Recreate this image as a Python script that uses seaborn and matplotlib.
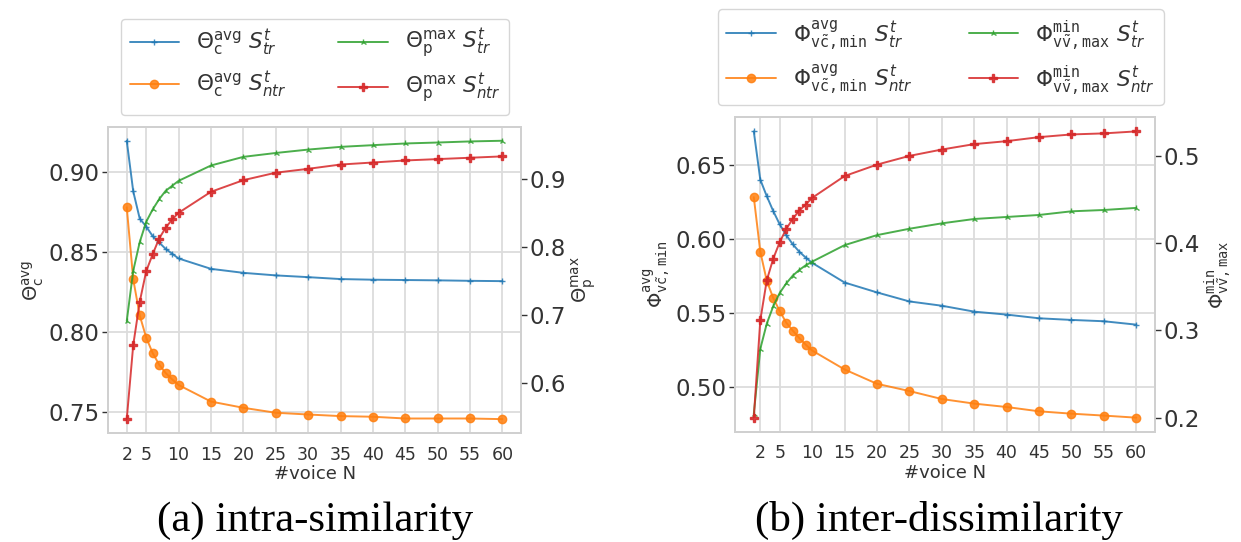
import numpy as np
import pandas as pd
import matplotlib
matplotlib.use("Agg")
import matplotlib.pyplot as plt
import seaborn as sns

# ---------------- data ----------------
n_a = [2, 3, 4, 5, 6, 7, 8, 9, 10, 15, 20, 25, 30, 35, 40, 45, 50, 55, 60]
theta_c_avg_tr = [0.9197, 0.888, 0.871, 0.866, 0.860, 0.856, 0.852, 0.849, 0.846, 0.8395, 0.837,
                  0.8354, 0.8343, 0.8331, 0.8327, 0.8325, 0.8323, 0.832, 0.8318]
theta_c_avg_ntr = [0.878, 0.833, 0.8104, 0.7965, 0.7868, 0.7795, 0.7743, 0.7703, 0.7668, 0.7564,
                   0.7525, 0.7494, 0.7483, 0.7473, 0.7469, 0.7458, 0.7458, 0.7458, 0.7454]
theta_p_max_tr = [0.6917, 0.7657, 0.8078, 0.8377, 0.8559, 0.871, 0.8833, 0.8907, 0.898, 0.9206,
                  0.9333, 0.939, 0.944, 0.948, 0.9505, 0.953, 0.9544, 0.956, 0.957]
theta_p_max_ntr = [0.5475, 0.6564, 0.72, 0.765, 0.790, 0.8132, 0.8289, 0.8412, 0.851, 0.8819,
                   0.899, 0.910, 0.9157, 0.922, 0.925, 0.928, 0.930, 0.932, 0.934]

n_b = [1, 2, 3, 4, 5, 6, 7, 8, 9, 10, 15, 20, 25, 30, 35, 40, 45, 50, 55, 60]
phi_avg_tr = [0.6729, 0.6403, 0.6291, 0.619, 0.610, 0.6028, 0.5966, 0.5916, 0.5876, 0.584, 0.5707,
              0.564, 0.5579, 0.555, 0.551, 0.549, 0.5465, 0.5454, 0.5445, 0.5422]
phi_avg_ntr = [0.6284, 0.5916, 0.5719, 0.5602, 0.5514, 0.5436, 0.5382, 0.5332, 0.5287, 0.5247, 0.5119,
               0.5022, 0.4973, 0.4919, 0.4888, 0.4865, 0.4836, 0.482, 0.4807, 0.4793]
phi_min_tr = [0.204, 0.2788, 0.3077, 0.3277, 0.343, 0.3538, 0.3627, 0.3692, 0.3746, 0.3788, 0.3977,
              0.4092, 0.4165, 0.4227, 0.4277, 0.430, 0.4323, 0.4365, 0.438, 0.4404]
phi_min_ntr = [0.200, 0.3115, 0.3573, 0.3823, 0.4012, 0.4162, 0.4277, 0.4373, 0.4442, 0.4519, 0.4769,
               0.490, 0.500, 0.5073, 0.5135, 0.5169, 0.5215, 0.5246, 0.5258, 0.5281]

xticks = [2, 5, 10, 15, 20, 25, 30, 35, 40, 45, 50, 55, 60]
yticks_a_left = [0.75, 0.80, 0.85, 0.90]
yticks_a_right = [0.6, 0.7, 0.8, 0.9]
yticks_b_left = [0.50, 0.55, 0.60, 0.65]
yticks_b_right = [0.2, 0.3, 0.4, 0.5]

# labels
lab_a = [r"$\Theta_{\mathrm{c}}^{\mathrm{avg}}\ S_{tr}^{t}$",
         r"$\Theta_{\mathrm{c}}^{\mathrm{avg}}\ S_{ntr}^{t}$",
         r"$\Theta_{\mathrm{p}}^{\mathrm{max}}\ S_{tr}^{t}$",
         r"$\Theta_{\mathrm{p}}^{\mathrm{max}}\ S_{ntr}^{t}$"]
phiL = r"\Phi^{\mathtt{avg}}_{\mathtt{v}\tilde{\mathtt{c}}\mathtt{,}\,\mathtt{min}}"
phiR = r"\Phi^{\mathtt{min}}_{\mathtt{v}\tilde{\mathtt{v}}\mathtt{,}\,\mathtt{max}}"
lab_b = [r"$" + phiL + r"\ S_{tr}^{t}$",
         r"$" + phiL + r"\ S_{ntr}^{t}$",
         r"$" + phiR + r"\ S_{tr}^{t}$",
         r"$" + phiR + r"\ S_{ntr}^{t}$"]

# ---------------- style ----------------
sns.set_theme(style="whitegrid")
plt.rcParams["font.family"] = ["DejaVu Sans"]
plt.rcParams["axes.edgecolor"] = "#d0d0d0"
plt.rcParams["grid.color"] = "#dcdcdc"
plt.rcParams["grid.linewidth"] = 1.3
plt.rcParams["text.color"] = "#333333"
plt.rcParams["axes.labelcolor"] = "#333333"
plt.rcParams["xtick.color"] = "#333333"
plt.rcParams["ytick.color"] = "#333333"

C = ["#1f77b4", "#ff7f0e", "#2ca02c", "#d62728"]
MK = ["+", "o", "2", "P"]
MS = [4.5, 6, 4.5, 5.5]

fig = plt.figure(figsize=(12.41, 5.42), dpi=100)
axA = fig.add_axes([0.087, 0.201, 0.333, 0.565])
axB = fig.add_axes([0.592, 0.203, 0.339, 0.581])


def draw(ax, x, left_series, right_series, labels, ylab_l, ylab_r, yt_l, yt_r, fmt_l, fmt_r):
    ax2 = ax.twinx()
    handles = []
    targets = [ax, ax, ax2, ax2]
    series = left_series + right_series
    for i, (tgt, ys) in enumerate(zip(targets, series)):
        df = pd.DataFrame({"N": x, "v": ys})
        sns.lineplot(data=df, x="N", y="v", ax=tgt, color=C[i], marker=MK[i],
                     markersize=MS[i], markeredgecolor=C[i], markeredgewidth=1.0,
                     linewidth=1.4, alpha=0.85, label=labels[i], legend=False)
        handles.append(tgt.get_lines()[-1])
    ax.set_xticks(xticks)
    ax.set_xticklabels([str(t) for t in xticks], fontsize=12.5)
    ax.set_yticks(yt_l)
    ax.set_yticklabels([fmt_l.format(t) for t in yt_l], fontsize=16.5)
    ax2.set_yticks(yt_r)
    ax2.set_yticklabels([fmt_r.format(t) for t in yt_r], fontsize=16.5)
    ax2.grid(False)
    ax.tick_params(axis="y", left=True, length=4, width=1, pad=2, color="#333333")
    ax2.tick_params(axis="y", right=True, length=4, width=1, pad=2, color="#333333")
    ax.tick_params(axis="x", bottom=False, pad=3)
    ax.set_xlabel("#voice N", fontsize=13, labelpad=1)
    ax.set_ylabel(ylab_l, fontsize=14, labelpad=2)
    ax2.set_ylabel(ylab_r, fontsize=14, labelpad=2)
    for sp in ax2.spines.values():
        sp.set_color("#d0d0d0")
    return ax2, handles


axA2, hA = draw(axA, n_a, [theta_c_avg_tr, theta_c_avg_ntr], [theta_p_max_tr, theta_p_max_ntr],
                lab_a, r"$\Theta_{\mathrm{c}}^{\mathrm{avg}}$", r"$\Theta_{\mathrm{p}}^{\mathrm{max}}$",
                yticks_a_left, yticks_a_right, "{:.2f}", "{:.1f}")
axB2, hB = draw(axB, n_b, [phi_avg_tr, phi_avg_ntr], [phi_min_tr, phi_min_ntr],
                lab_b, "$" + phiL + "$", "$" + phiR + "$",
                yticks_b_left, yticks_b_right, "{:.2f}", "{:.1f}")

fig.legend(handles=hA, labels=lab_a, ncol=2, loc="lower center", bbox_to_anchor=(0.254, 0.788),
           borderaxespad=0, fontsize=15.5, frameon=True, edgecolor="#cccccc",
           columnspacing=2.4, handlelength=2.3)
fig.legend(handles=hB, labels=lab_b, ncol=2, loc="lower center", bbox_to_anchor=(0.758, 0.806),
           borderaxespad=0, fontsize=15.5, frameon=True, edgecolor="#cccccc",
           columnspacing=2.6, handlelength=2.3)

fig.text(0.254, 0.039, "(a) intra-similarity", family="Liberation Serif", fontsize=31,
         ha="center", va="center", color="black")
fig.text(0.757, 0.039, "(b) inter-dissimilarity", family="Liberation Serif", fontsize=31,
         ha="center", va="center", color="black")

fig.savefig("out.png", dpi=100)
